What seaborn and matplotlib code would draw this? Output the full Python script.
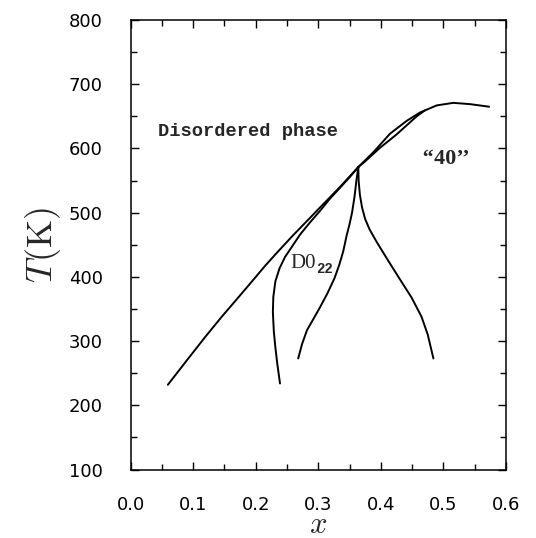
import pandas as pd
import seaborn as sns
import matplotlib.pyplot as plt
from matplotlib.ticker import MultipleLocator

# Disordered phase boundary (runs through the triple point up to the "40" dome)
bound_x = [0.0597, 0.090, 0.119, 0.145, 0.1723, 0.195, 0.2149, 0.2362, 0.260, 0.283,
           0.3028, 0.3348, 0.364, 0.388, 0.4147, 0.4414, 0.4626, 0.4893, 0.5158, 0.5425, 0.573]
bound_T = [232, 270, 306, 337, 368, 394, 417, 440, 465, 488,
           508, 540, 571, 594, 623, 643, 656, 667, 671, 669, 665]

# second line of the two-phase region above the triple point
upper_x = [0.364, 0.375, 0.3987, 0.4254, 0.4573, 0.470]
upper_T = [571, 580, 601, 622, 650, 659]

# D0_22 left boundary
d022_left_x = [0.364, 0.350, 0.335, 0.318, 0.303, 0.287, 0.271, 0.2566, 0.2469,
               0.2380, 0.2315, 0.2282, 0.2275, 0.2290, 0.2315, 0.2345, 0.2389]
d022_left_T = [571, 555, 539, 521, 503, 485, 466, 445, 431,
               413, 393, 369, 345, 315, 290, 265, 234]

# D0_22 right boundary
d022_right_x = [0.364, 0.361, 0.358, 0.354, 0.350, 0.3455, 0.340, 0.334, 0.326, 0.315,
                0.303, 0.292, 0.282, 0.274, 0.268]
d022_right_T = [571, 550, 525, 500, 482, 465, 440, 420, 398, 375,
                353, 334, 317, 295, 273]

# "40" left boundary
p40_x = [0.364, 0.3645, 0.3665, 0.370, 0.375, 0.382, 0.393, 0.410, 0.430, 0.449,
         0.465, 0.475, 0.484]
p40_T = [571, 550, 528, 508, 490, 474, 455, 428, 397, 368, 338, 310, 273]

curves = [(bound_x, bound_T), (upper_x, upper_T), (d022_left_x, d022_left_T),
          (d022_right_x, d022_right_T), (p40_x, p40_T)]

sns.set_style('ticks')
plt.rcParams['font.family'] = ['DejaVu Sans']
plt.rcParams['mathtext.fontset'] = 'cm'
plt.rcParams['axes.edgecolor'] = 'black'
plt.rcParams['xtick.color'] = 'black'
plt.rcParams['ytick.color'] = 'black'

fig = plt.figure(figsize=(5.36, 5.38), dpi=100)
ax = fig.add_axes([0.2435, 0.1273, 0.7005, 0.8355])

for xs, ts in curves:
    df = pd.DataFrame({'x': xs, 'T': ts})
    sns.lineplot(data=df, x='x', y='T', sort=False, estimator=None,
                 color='black', lw=1.4, ax=ax)

ax.set_xlim(0, 0.6)
ax.set_ylim(100, 800)
ax.xaxis.set_major_locator(MultipleLocator(0.1))
ax.xaxis.set_minor_locator(MultipleLocator(0.05))
ax.yaxis.set_major_locator(MultipleLocator(100))
ax.yaxis.set_minor_locator(MultipleLocator(50))
ax.tick_params(which='both', direction='in', top=True, right=True, width=1.0,
               labelsize=13, labelcolor='black')
ax.tick_params(which='major', length=5.5)
ax.tick_params(which='minor', length=4.3)
ax.tick_params(axis='x', which='both', pad=19)
ax.tick_params(axis='y', which='both', pad=20)
for s in ax.spines.values():
    s.set_linewidth(1.1)

ax.set_xlabel(r'$x$', fontsize=22, labelpad=-3)
ax.set_ylabel(r'$T\mathrm{(K)}$', fontsize=26, labelpad=4)

# phase labels
ax.text(0.0444, 626, 'Disordered phase', family='Liberation Mono', weight='bold',
        fontsize=13.5, ha='left', va='center')
ax.text(0.2549, 421, 'D0', family='Liberation Serif', fontsize=15, ha='left', va='center')
ax.annotate('22', xy=(0.2549, 421), xytext=(18.5, -4), textcoords='offset points',
            family='Liberation Mono', weight='bold', fontsize=10, ha='left', va='center')
ax.text(0.504, 584, '\u2018\u201840\u2019\u2019', family='Liberation Serif', weight='bold',
        fontsize=16, ha='center', va='center')

fig.savefig('out.png', dpi=100)
